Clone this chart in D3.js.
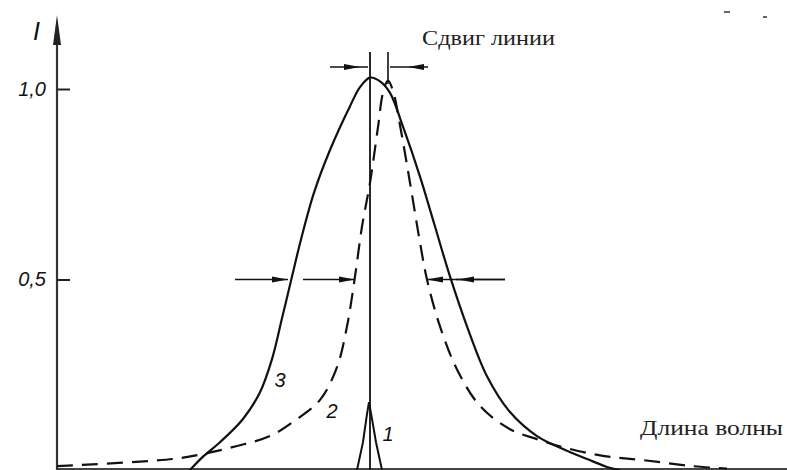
<!DOCTYPE html>
<html>
<head>
<meta charset="utf-8">
<script src="https://cdn.jsdelivr.net/npm/d3@7"></script>
<style>
  body { margin: 0; background: #fff; }
  svg { display: block; }
</style>
</head>
<body>
<div id="chart"></div>
<script>
(function(){
    // wavelength (arb. units, 0 = unshifted line centre), intensity I
    const profile3 = [
        [-18.0, 0.0], [-16.7, 0.035], [-15.0, 0.073], [-12.7, 0.134], [-11.0, 0.204],
        [-9.8, 0.291], [-8.8, 0.398], [-7.8, 0.508], [-6.9, 0.605], [-5.6, 0.728],
        [-4.0, 0.840], [-2.0, 0.955], [-1.0, 1.005], [0.0, 1.03], [1.0, 1.020],
        [2.0, 0.990], [3.3, 0.901], [5.0, 0.770], [6.5, 0.639], [8.0, 0.508],
        [9.7, 0.377], [11.7, 0.246], [14.0, 0.152], [16.7, 0.089], [19.3, 0.055],
        [21.7, 0.029], [23.7, 0.008], [25.0, 0.0]
    ];
    const profile2 = [
        [-31.3, 0.010], [-19.7, 0.029], [-16.7, 0.042], [-13.3, 0.063], [-10.0, 0.089],
        [-7.5, 0.130], [-5.0, 0.184], [-3.3, 0.270], [-2.3, 0.377], [-1.5, 0.508],
        [-0.8, 0.639], [0.0, 0.754], [0.8, 0.900], [1.3, 0.990], [1.8, 1.022],
        [2.3, 0.995], [3.0, 0.905], [4.0, 0.754], [5.0, 0.597], [5.7, 0.500],
        [7.0, 0.377], [8.7, 0.264], [11.0, 0.168], [14.0, 0.107], [16.7, 0.081],
        [19.3, 0.060], [23.3, 0.037], [27.3, 0.026], [32.3, 0.010], [35.7, 0.004]
    ];
    const profile1 = [
        [-1.3, 0.0], [-0.7, 0.073], [-0.3, 0.147], [-0.1, 0.178],
        [0.2, 0.134], [0.6, 0.073], [1.2, 0.0]
    ];
    const lineCentres = [0.0, 1.8];          // unshifted / shifted centre
    const halfWidth3 = [-7.8, 8.0];
    const halfWidth2 = [-1.5, 5.7];
    const tickValues = [0.5, 1.0];
    const tickLabels = ["0,5", "1,0"];

    const width = 787, height = 470;

    const svg = d3.select('#chart')
        .append('svg')
            .attr('width', width)
            .attr('height', height);

    const xScale = d3.scaleLinear()
        .domain([-31.3, 41.7])
        .range([57, 787]);

    const yScale = d3.scaleLinear()
        .domain([0, 1])
        .range([470, 89]);

    const ink = '#111';
    const sans = '"Liberation Sans", Arial, sans-serif';
    const serif = '"Liberation Serif", "Times New Roman", serif';

    // axes
    svg.append('line')
        .attr('x1', xScale(-31.3)).attr('x2', width)
        .attr('y1', yScale(0) - 1).attr('y2', yScale(0) - 1)
        .attr('stroke', '#444').attr('stroke-width', 2);

    svg.append('line')
        .attr('x1', 57).attr('x2', 57)
        .attr('y1', yScale(0)).attr('y2', 30)
        .attr('stroke', '#333').attr('stroke-width', 2.2);
    svg.append('path')
        .attr('d', 'M57,15 L61,45 L53,45 Z')
        .attr('fill', '#222');

    const yAxis = d3.axisLeft(yScale)
        .tickValues(tickValues)
        .tickFormat((d, i) => tickLabels[i])
        .tickSizeInner(-13)
        .tickSizeOuter(0)
        .tickPadding(11);

    const gy = svg.append('g')
        .attr('transform', 'translate(57, 0)')
        .call(yAxis);
    gy.select('.domain').remove();
    gy.selectAll('.tick line').attr('stroke', '#222').attr('stroke-width', 2);
    gy.selectAll('.tick text')
        .attr('fill', ink)
        .style('font-family', sans)
        .style('font-style', 'italic')
        .style('font-size', '20px');

    svg.append('text')
        .attr('x', 33).attr('y', 40)
        .attr('fill', ink)
        .style('font-family', sans)
        .style('font-style', 'italic')
        .style('font-size', '25px')
        .text('I');

    // profiles
    const line = d3.line()
        .x(d => xScale(d[0]))
        .y(d => yScale(d[1]))
        .curve(d3.curveCatmullRom.alpha(0.5));

    svg.append('path')
        .datum(profile3)
        .attr('d', line)
        .attr('fill', 'none')
        .attr('stroke', ink)
        .attr('stroke-width', 2.2);

    svg.append('path')
        .datum(profile2)
        .attr('d', line)
        .attr('fill', 'none')
        .attr('stroke', ink)
        .attr('stroke-width', 2.2)
        .attr('stroke-dasharray', '16,9');

    svg.append('path')
        .datum(profile1)
        .attr('d', line.curve(d3.curveLinear))
        .attr('fill', 'none')
        .attr('stroke', ink)
        .attr('stroke-width', 2);

    // centre markers
    svg.append('line')
        .attr('x1', xScale(lineCentres[0])).attr('x2', xScale(lineCentres[0]))
        .attr('y1', 52).attr('y2', yScale(0))
        .attr('stroke', ink).attr('stroke-width', 1.8);
    svg.append('line')
        .attr('x1', xScale(lineCentres[1])).attr('x2', xScale(lineCentres[1]))
        .attr('y1', 52).attr('y2', 84)
        .attr('stroke', ink).attr('stroke-width', 1.6);

    // arrows: line from x0 to tip, head pointing to tip
    function arrow(x0, tip, y, headAt) {
        const dir = tip > x0 ? 1 : -1;
        const h = headAt === undefined ? tip : headAt;
        svg.append('line')
            .attr('x1', x0).attr('x2', tip)
            .attr('y1', y).attr('y2', y)
            .attr('stroke', ink).attr('stroke-width', 1.6);
        svg.append('path')
            .attr('d', `M${h},${y} L${h - dir * 16},${y - 3} L${h - dir * 16},${y + 3} Z`)
            .attr('fill', ink);
    }

    const yTop = 67;
    arrow(330, xScale(lineCentres[0]) - 2, yTop, xScale(lineCentres[0]) - 10);
    arrow(428, xScale(lineCentres[1]) + 2, yTop, xScale(lineCentres[1]) + 20);

    const yHalf = yScale(0.5);
    arrow(235, xScale(halfWidth3[0]) - 4, yHalf);
    arrow(303, xScale(halfWidth2[0]), yHalf);
    arrow(505, xScale(halfWidth2[1]), yHalf);
    arrow(505, xScale(halfWidth3[1]) + 6, yHalf, xScale(halfWidth3[1]) + 8);

    // curve numbers
    [['3', -9.0, 0.235], ['2', -3.8, 0.155], ['1', 1.8, 0.095]].forEach(d => {
        svg.append('text')
            .attr('x', xScale(d[1])).attr('y', yScale(d[2]))
            .attr('text-anchor', 'middle')
            .attr('dy', '0.35em')
            .attr('fill', ink)
            .style('font-family', sans)
            .style('font-style', 'italic')
            .style('font-size', '20px')
            .text(d[0]);
    });

    // captions
    svg.append('text')
        .attr('x', 422).attr('y', 45)
        .attr('textLength', 133)
        .attr('lengthAdjust', 'spacingAndGlyphs')
        .attr('fill', '#222')
        .style('font-family', serif)
        .style('font-size', '21px')
        .text('Сдвиг линии');

    svg.append('text')
        .attr('x', 640).attr('y', 435)
        .attr('textLength', 143)
        .attr('lengthAdjust', 'spacingAndGlyphs')
        .attr('fill', '#222')
        .style('font-family', serif)
        .style('font-size', '21px')
        .text('Длина волны');

    // scan specks at the top right
    svg.append('line').attr('x1', 724).attr('x2', 730).attr('y1', 12).attr('y2', 12)
        .attr('stroke', '#666').attr('stroke-width', 2);
    svg.append('line').attr('x1', 763).attr('x2', 767).attr('y1', 17).attr('y2', 17)
        .attr('stroke', '#666').attr('stroke-width', 2);
}())
</script>
</body>
</html>
